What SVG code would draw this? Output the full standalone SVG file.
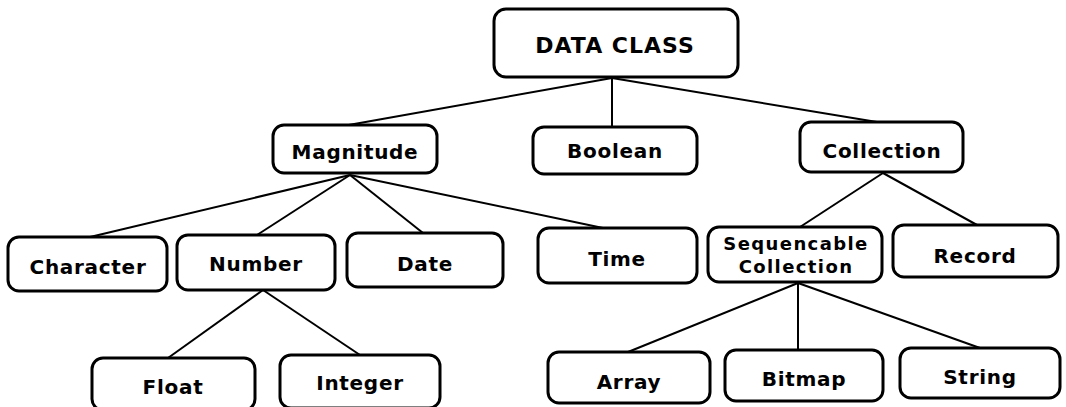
<svg xmlns="http://www.w3.org/2000/svg" width="1066" height="407" viewBox="0 0 1066 407">
<style>
.box{fill:#fff;stroke:#000;stroke-width:3}
.lbl{font-family:"DejaVu Sans",sans-serif;font-weight:bold;font-size:20px;letter-spacing:0.7px;text-anchor:middle;fill:#000}
.big{font-size:22px;letter-spacing:1px}
.two{font-size:18px;letter-spacing:1.4px}
.edge{stroke:#000;stroke-width:2;fill:none}
</style>
<rect width="1066" height="407" fill="#fff"/>
<g id="connectors">
<line class="edge" x1="612" y1="78" x2="343" y2="126"/>
<line class="edge" x1="612" y1="78" x2="612" y2="127"/>
<line class="edge" x1="612" y1="78" x2="883" y2="123"/>
<line class="edge" x1="350" y1="175" x2="90" y2="237"/>
<line class="edge" x1="350" y1="175" x2="257" y2="235"/>
<line class="edge" x1="350" y1="175" x2="423" y2="233"/>
<line class="edge" x1="350" y1="175" x2="603" y2="228"/>
<line class="edge" x1="263" y1="290" x2="168" y2="358"/>
<line class="edge" x1="263" y1="290" x2="360" y2="355"/>
<line class="edge" x1="883" y1="173" x2="800" y2="227"/>
<line class="edge" x1="883" y1="173" x2="977" y2="225"/>
<line class="edge" x1="798" y1="283" x2="628" y2="352"/>
<line class="edge" x1="798" y1="283" x2="798" y2="350"/>
<line class="edge" x1="798" y1="283" x2="980" y2="348"/>
</g>
<g id="dataclass"><rect class="box" x="494" y="9" width="244" height="68" rx="12"/><text class="lbl big" x="615" y="53">DATA CLASS</text></g>
<g id="magnitude"><rect class="box" x="273" y="125" width="164" height="48" rx="11"/><text class="lbl" x="355" y="159">Magnitude</text></g>
<g id="boolean"><rect class="box" x="533" y="127" width="164" height="47" rx="11"/><text class="lbl" x="615" y="158">Boolean</text></g>
<g id="collection"><rect class="box" x="800" y="122" width="163" height="50" rx="11"/><text class="lbl" x="882" y="158">Collection</text></g>
<g id="character"><rect class="box" x="8" y="237" width="159" height="54" rx="11"/><text class="lbl" x="88" y="274">Character</text></g>
<g id="number"><rect class="box" x="177" y="235" width="158" height="55" rx="11"/><text class="lbl" x="256" y="271">Number</text></g>
<g id="date"><rect class="box" x="347" y="233" width="156" height="54" rx="11"/><text class="lbl" x="425" y="271">Date</text></g>
<g id="time"><rect class="box" x="538" y="228" width="159" height="55" rx="11"/><text class="lbl" x="617" y="266">Time</text></g>
<g id="sequencable"><rect class="box" x="708" y="227" width="174" height="55" rx="11"/><text class="lbl two" x="796" y="250">Sequencable</text><text class="lbl two" x="796" y="273">Collection</text></g>
<g id="record"><rect class="box" x="893" y="225" width="165" height="52" rx="11"/><text class="lbl" x="975" y="263">Record</text></g>
<g id="float"><rect class="box" x="92" y="358" width="163" height="52" rx="11"/><text class="lbl" x="173" y="394">Float</text></g>
<g id="integer"><rect class="box" x="280" y="355" width="160" height="53" rx="11"/><text class="lbl" x="360" y="390">Integer</text></g>
<g id="array"><rect class="box" x="548" y="352" width="162" height="51" rx="11"/><text class="lbl" x="629" y="389">Array</text></g>
<g id="bitmap"><rect class="box" x="725" y="350" width="158" height="51" rx="11"/><text class="lbl" x="804" y="386">Bitmap</text></g>
<g id="string"><rect class="box" x="900" y="348" width="160" height="50" rx="11"/><text class="lbl" x="980" y="384">String</text></g>
</svg>
